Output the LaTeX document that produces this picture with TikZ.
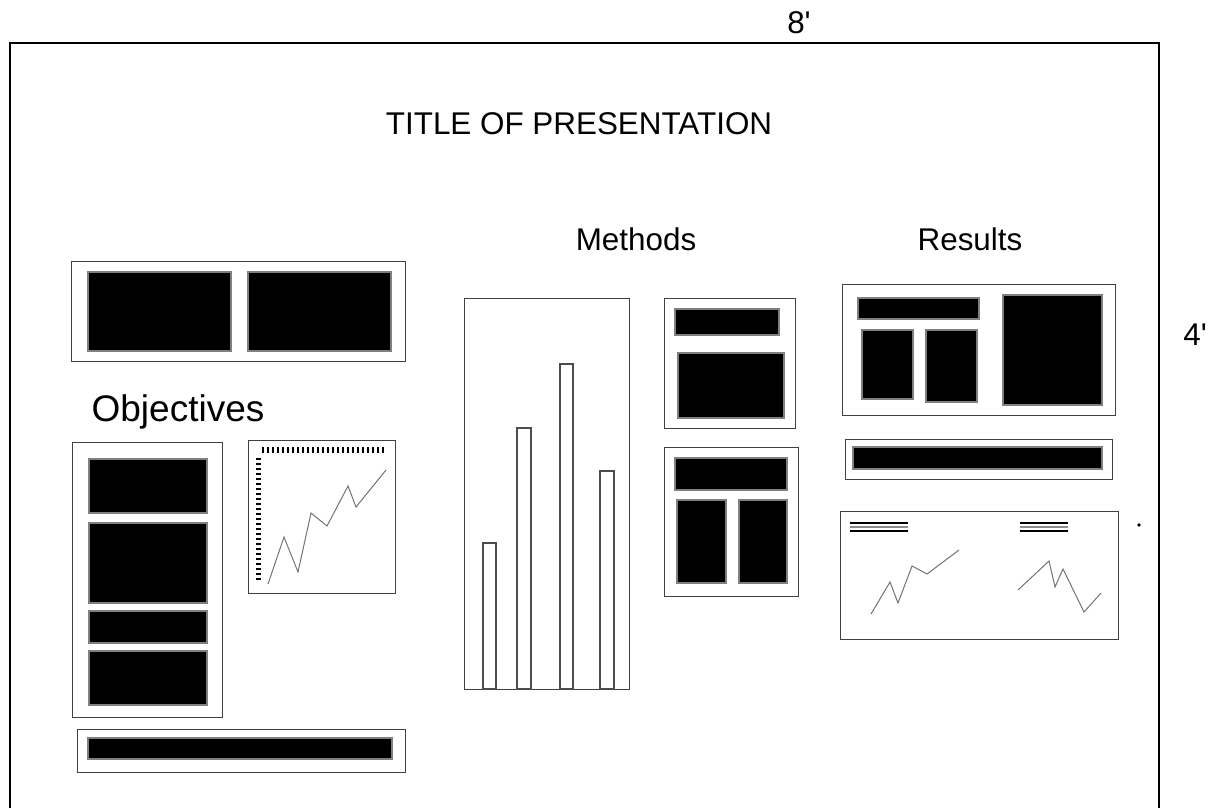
\documentclass[tikz,border=0pt]{standalone}
\usepackage{fontspec}
\setmainfont{Liberation Sans}
\tikzset{
  panel/.style={draw=black!75, line width=0.5pt},
  blk/.style={fill=black, draw=black!50, line width=0.6pt},
  bar/.style={draw=black!70, line width=0.6pt},
  trace/.style={draw=black!55, line width=0.5pt},
  lbl/.style={anchor=base, inner sep=0pt, font=\fontsize{15.7}{18}\selectfont}
}
\begin{document}
\begin{tikzpicture}[x={(0.5pt,0)}, y={(0,-0.5pt)}]
\useasboundingbox (0,0) rectangle (1213,808);

% Board frame and sizes
\draw[line width=1pt] (10,808) -- (10,43) -- (1159,43) -- (1159,808);
\node[lbl] (width) at (799,34) {8\textquotesingle};
\node[lbl] (height) at (1195,345) {4\textquotesingle};
\fill (1139,525) circle (1.8);

% Headings
\node[lbl] (title) at (579,134) {TITLE OF PRESENTATION};
\node[lbl] (methods) at (636,250) {Methods};
\node[lbl] (results) at (970,250) {Results};
\node[lbl, font=\fontsize{18.5}{21}\selectfont] (objectives) at (178,421) {Objectives};

% Left column
\draw[panel] (71,261) rectangle (405,361);
\draw[blk] (88,272) rectangle (231,351);
\draw[blk] (248,272) rectangle (391,351);

\draw[panel] (72,442) rectangle (222,717);
\draw[blk] (89,459) rectangle (207,513);
\draw[blk] (89,523) rectangle (207,603);
\draw[blk] (89,611) rectangle (207,643);
\draw[blk] (89,651) rectangle (207,705);

\draw[panel] (248,440) rectangle (395,593);
\foreach \i in {0,...,24}
  \draw[line width=0.6pt] (263+5*\i,447) -- ++(0,6);
\foreach \i in {0,...,24}
  \draw[line width=0.6pt] (256,459+5*\i) -- ++(5,0);
\draw[trace] (268,584) -- (284,537) -- (298,572) -- (311,513) -- (327,526)
  -- (348,486) -- (356,507) -- (386,470);

\draw[panel] (77,729) rectangle (405,772);
\draw[blk] (88,738) rectangle (392,759);

% Methods
\draw[panel] (464,298) rectangle (629,689);
\draw[bar] (483,543) rectangle (496,689);
\draw[bar] (517,428) rectangle (531,689);
\draw[bar] (560,364) rectangle (573,689);
\draw[bar] (600,471) rectangle (614,689);

\draw[panel] (664,298) rectangle (795,428);
\draw[blk] (675,309) rectangle (779,335);
\draw[blk] (678,353) rectangle (784,418);

\draw[panel] (664,447) rectangle (798,596);
\draw[blk] (675,458) rectangle (787,490);
\draw[blk] (677,500) rectangle (726,583);
\draw[blk] (739,500) rectangle (787,583);

% Results
\draw[panel] (842,284) rectangle (1115,415);
\draw[blk] (858,298) rectangle (979,319);
\draw[blk] (862,330) rectangle (913,399);
\draw[blk] (926,330) rectangle (977,402);
\draw[blk] (1003,295) rectangle (1102,405);

\draw[panel] (845,439) rectangle (1112,479);
\draw[blk] (853,447) rectangle (1102,469);

\draw[panel] (840,511) rectangle (1118,639);
\foreach \x/\w in {850/58, 1020/48} {
  \draw[line width=0.6pt] (\x,523) -- ++(\w,0);
  \draw[black!45, line width=0.6pt] (\x,527) -- ++(\w,0);
  \draw[line width=0.6pt] (\x,531) -- ++(\w,0);
}
\draw[trace] (871,614) -- (890,582) -- (898,603) -- (912,566) -- (927,574) -- (959,550);
\draw[trace] (1018,590) -- (1049,561) -- (1055,587) -- (1063,569) -- (1084,612) -- (1101,593);

\end{tikzpicture}
\end{document}
